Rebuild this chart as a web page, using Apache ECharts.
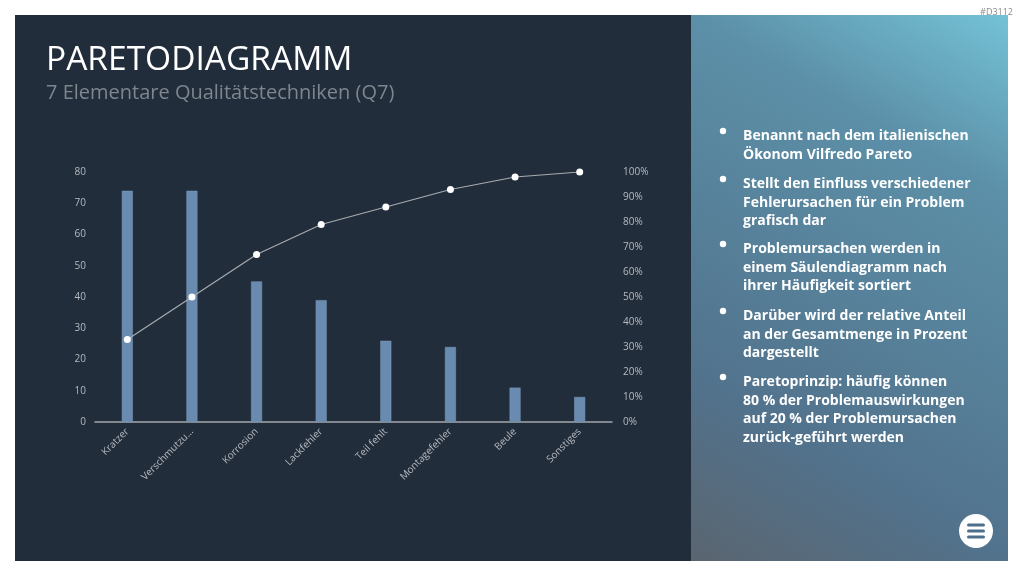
<!DOCTYPE html>
<html>
<head>
<meta charset="utf-8">
<script src="https://cdn.jsdelivr.net/npm/echarts@6/dist/echarts.min.js"></script>
<style>
    html, body { margin: 0; padding: 0; background: #fff; }
    #pareto-chart { width: 1024px; height: 576px; }
</style>
</head>
<body>
<div id="pareto-chart"></div>
<script>
var categories = ['Kratzer', 'Verschmutzung', 'Korrosion', 'Lackfehler', 'Teil fehlt', 'Montagefehler', 'Beule', 'Sonstiges'];
var counts = [74, 74, 45, 39, 26, 24, 11, 8];
var cumulativePct = [33, 50, 67, 79, 86, 93, 98, 100];

var bullets = [
    'Benannt nach dem italienischen\nÖkonom Vilfredo Pareto',
    'Stellt den Einfluss verschiedener\nFehlerursachen für ein Problem\ngrafisch dar',
    'Problemursachen werden in\neinem Säulendiagramm nach\nihrer Häufigkeit sortiert',
    'Darüber wird der relative Anteil\nan der Gesamtmenge in Prozent\ndargestellt',
    'Paretoprinzip: häufig können\n80 % der Problemauswirkungen\nauf 20 % der Problemursachen\nzurück-geführt werden'
];
var bulletTops = [127, 175, 240, 307, 373];

var chartDom = document.getElementById('pareto-chart');
var myChart = echarts.init(chartDom);

var labelColor = '#b5b9be';
var font = '"Open Sans", sans-serif';

// hintergrund, rechte spalte, menu-knopf
var graphics = [
    { type: 'rect', z: -10, shape: { x: 15, y: 15, width: 677, height: 546 }, style: { fill: '#222d3b' } },
    {
        type: 'rect', z: -10,
        shape: { x: 691, y: 15, width: 317, height: 546 },
        style: {
            fill: new echarts.graphic.LinearGradient(0, 1, 1, 0, [
                { offset: 0, color: '#5a6570' },
                { offset: 0.25, color: '#52728c' },
                { offset: 0.75, color: '#5c90a8' },
                { offset: 1, color: '#74c2d6' }
            ])
        }
    },
    { type: 'text', x: 1013, y: 8, style: { text: '#D3112', fill: '#8a8a8a', font: '9px ' + font, align: 'right' } },
    { type: 'circle', shape: { cx: 976, cy: 531, r: 17 }, style: { fill: '#ffffff' } }
];
[-6, 0, 6].forEach(function (dy) {
    graphics.push({ type: 'rect', shape: { x: 967, y: 529.5 + dy, width: 18, height: 3, r: 1.5 }, style: { fill: '#4d6f8b' } });
});
bullets.forEach(function (txt, i) {
    graphics.push({ type: 'circle', shape: { cx: 723, cy: bulletTops[i] + 4, r: 3.2 }, style: { fill: '#ffffff' } });
    graphics.push({
        type: 'text', x: 743, y: bulletTops[i],
        style: {
            text: txt, fill: '#ffffff',
            font: 'bold 14px ' + font,
            lineHeight: 18.5
        }
    });
});

var option = {
    backgroundColor: '#ffffff',
    textStyle: { fontFamily: font },
    title: {
        text: 'PARETODIAGRAMM',
        subtext: '7 Elementare Qualitätstechniken (Q7)',
        left: 46,
        top: 43,
        padding: 0,
        itemGap: 6,
        textStyle: { color: '#ffffff', fontSize: 33.5, fontWeight: 'normal', fontFamily: font },
        subtextStyle: { color: '#7d858e', fontSize: 20, fontFamily: font }
    },
    graphic: graphics,
    grid: {
        left: 95,
        right: 412,
        top: 172,
        bottom: 154
    },
    xAxis: {
        type: 'category',
        data: categories,
        axisTick: { show: false },
        axisLine: { lineStyle: { color: '#a3a7ab', width: 1.5 } },
        axisLabel: {
            color: labelColor,
            fontSize: 10,
            rotate: 45,
            margin: 8,
            interval: 0,
            width: 72,
            overflow: 'truncate',
            ellipsis: '...'
        }
    },
    yAxis: [
        {
            type: 'value',
            min: 0,
            max: 80,
            interval: 10,
            splitLine: { show: false },
            axisLine: { show: false },
            axisTick: { show: false },
            axisLabel: { color: labelColor, fontSize: 10, margin: 9 }
        },
        {
            type: 'value',
            min: 0,
            max: 100,
            interval: 10,
            splitLine: { show: false },
            axisLine: { show: false },
            axisTick: { show: false },
            axisLabel: { color: labelColor, fontSize: 10, margin: 11, formatter: '{value}%' }
        }
    ],
    series: [
        {
            name: 'Anzahl',
            type: 'bar',
            barWidth: 11,
            itemStyle: { color: '#6a8bb0', borderColor: '#7c9bbd', borderWidth: 0.5 },
            data: counts
        },
        {
            name: 'Kumuliert',
            type: 'line',
            yAxisIndex: 1,
            symbol: 'circle',
            symbolSize: 7,
            lineStyle: { color: '#a7abaf', width: 1.2 },
            itemStyle: { color: '#ffffff' },
            data: cumulativePct
        }
    ]
};

myChart.setOption(option);

window.addEventListener('resize', function () {
    myChart.resize();
});
</script>
</body>
</html>
